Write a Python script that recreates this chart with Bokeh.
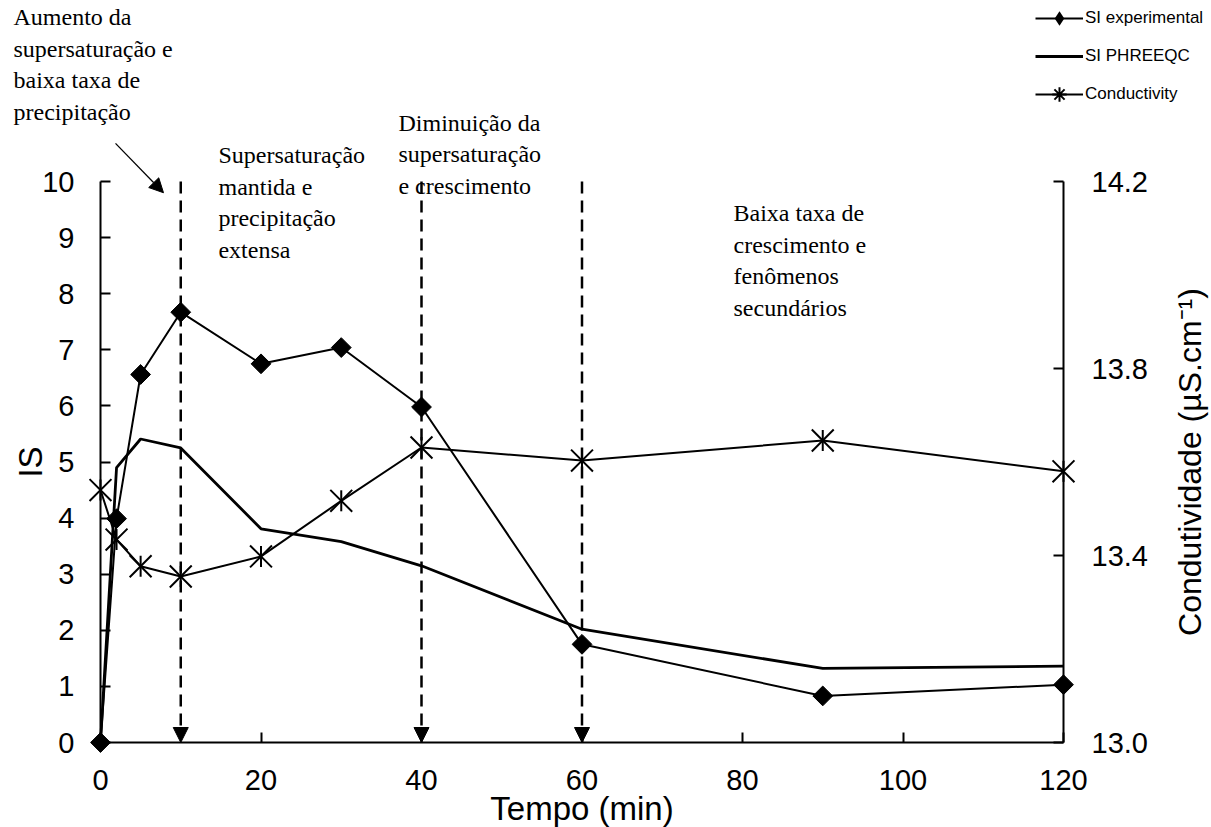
import numpy as np
from bokeh.plotting import figure
from bokeh.models import (Range1d, LinearAxis, FixedTicker, NumeralTickFormatter,
                          Label, Arrow, NormalHead, Legend, LegendItem)
from bokeh.embed import file_html
from bokeh.resources import INLINE

# Precipitation test: saturation index and conductivity over time
time_min = [0, 2, 5, 10, 20, 30, 40, 60, 90, 120]
si_experimental = [0.0, 3.99, 6.56, 7.67, 6.75, 7.04, 5.98, 1.75, 0.83, 1.03]
si_phreeqc = [0.0, 4.90, 5.41, 5.25, 3.81, 3.58, 3.15, 2.02, 1.32, 1.36]
conductivity = [13.54, 13.434, 13.377, 13.355, 13.398, 13.517, 13.631, 13.603, 13.646, 13.58]

# Stage boundaries (min)
stage_times = [10, 40, 60]

x_ticks = [0, 20, 40, 60, 80, 100, 120]
is_ticks = [0, 1, 2, 3, 4, 5, 6, 7, 8, 9, 10]
cond_ticks = [13.0, 13.4, 13.8, 14.2]

stage_notes = [
    (-10.84, 12.93, ["Aumento da", "supersaturação e", "baixa taxa de", "precipitação"]),
    (14.70, 10.47, ["Supersaturação", "mantida e", "precipitação", "extensa"]),
    (37.13, 11.05, ["Diminuição da", "supersaturação", "e crescimento"]),
    (78.88, 9.43, ["Baixa taxa de", "crescimento e", "fenômenos", "secundários"]),
]

SANS = "Liberation Sans"
SERIF = "Liberation Serif"

W, H = 1211, 827
# pixel placement of the axes box inside the canvas
ax_left_px, ax_right_px = 100, 1063
ax_top_px, ax_bottom_px = 181, 742
x_lo, x_hi = 0, 120
is_lo, is_hi = 0, 10
c_lo, c_hi = 13.0, 14.2

sx = (ax_right_px - ax_left_px) / (x_hi - x_lo)
sy = (ax_bottom_px - ax_top_px) / (is_hi - is_lo)
x_range = Range1d(x_lo - ax_left_px / sx, x_lo + (W - ax_left_px) / sx)
y_range = Range1d(is_lo - (H - ax_bottom_px) / sy, is_lo + ax_bottom_px / sy)
c_per_is = (c_hi - c_lo) / (is_hi - is_lo)

# the data frame fills the whole canvas; axes sit at fixed positions inside it
p = figure(width=W, height=H, x_range=x_range, y_range=y_range,
           x_axis_type=None, y_axis_type=None,
           output_backend="svg", toolbar_location=None,
           min_border=0, outline_line_color=None,
           background_fill_color="white", border_fill_color="white")
p.extra_y_ranges = {"cond": Range1d(c_lo + (y_range.start - is_lo) * c_per_is,
                                    c_lo + (y_range.end - is_lo) * c_per_is)}


def style_axis(ax, standoff):
    ax.axis_line_width = 2
    ax.axis_line_color = "black"
    ax.major_tick_line_width = 2
    ax.major_tick_line_color = "black"
    ax.major_tick_in = 10
    ax.major_tick_out = 0
    ax.minor_tick_in = 0
    ax.minor_tick_out = 0
    ax.major_label_text_font = SANS
    ax.major_label_text_font_size = "29px"
    ax.major_label_text_color = "black"
    ax.major_label_standoff = standoff


left = LinearAxis(fixed_location=x_lo, bounds=(is_lo, is_hi),
                  ticker=FixedTicker(ticks=is_ticks, minor_ticks=[]))
style_axis(left, 26)
p.add_layout(left, "left")

bottom = LinearAxis(fixed_location=is_lo, bounds=(x_lo, x_hi),
                    ticker=FixedTicker(ticks=x_ticks, minor_ticks=[]))
style_axis(bottom, 27)
p.add_layout(bottom, "below")

right = LinearAxis(y_range_name="cond", fixed_location=x_hi, bounds=(c_lo, c_hi),
                   ticker=FixedTicker(ticks=cond_ticks, minor_ticks=[]),
                   formatter=NumeralTickFormatter(format="0.0"))
style_axis(right, 28)
p.add_layout(right, "right")

# series
r_ph = p.line(time_min, si_phreeqc, line_width=2.8, color="black")
r_exp_line = p.line(time_min, si_experimental, line_width=2, color="black")
p.scatter(time_min, si_experimental, marker="square", angle=np.pi / 4,
          size=14, color="black")
r_cond_line = p.line(time_min, conductivity, y_range_name="cond",
                     line_width=2, color="black")
p.scatter(time_min, conductivity, y_range_name="cond", marker="x",
          size=31, line_width=2, line_color="black")
p.scatter(time_min, conductivity, y_range_name="cond", marker="dash",
          angle=np.pi / 2, size=21, line_width=2, line_color="black")

# legend swatches: zero-size in the plot, sized by the legend itself
key_diamond = p.scatter(time_min[:1], si_experimental[:1], marker="diamond", size=0,
                        fill_color="black", line_color=None)
key_star = p.scatter(time_min[:1], conductivity[:1], y_range_name="cond",
                     marker="asterisk", size=0, line_width=2, line_color="black")

# stage boundaries: dashed arrows down to the time axis
for t in stage_times:
    p.add_layout(Arrow(end=NormalHead(size=15, fill_color="black", line_color="black",
                                      line_width=1),
                       x_start=t, y_start=is_hi, x_end=t, y_end=is_lo,
                       line_color="black", line_width=2.5, line_dash="12 7"))

# pointer from the first note
p.add_layout(Arrow(end=NormalHead(size=14, fill_color="black", line_color="black",
                                  line_width=1),
                   x_start=1.87, y_start=10.68, x_end=7.85, y_end=9.80,
                   line_color="black", line_width=1.3))

for x0, y0, lines in stage_notes:
    for i, txt in enumerate(lines):
        p.add_layout(Label(x=x0, y=y0, y_offset=-31.5 * i, text=txt,
                           text_font=SERIF, text_font_size="24px",
                           text_color="black", text_align="left",
                           text_baseline="alphabetic"))

# axis titles
p.add_layout(Label(x=-8.7, y=5.0, text="IS", angle=np.pi / 2,
                   text_align="center", text_baseline="middle",
                   text_font=SANS, text_font_size="33px", text_color="black"))
p.add_layout(Label(x=60, y=-1.17, text="Tempo (min)",
                   text_align="center", text_baseline="middle",
                   text_font=SANS, text_font_size="33px", text_color="black"))
p.add_layout(Label(x=135.8, y=5.0, text="Condutividade (µS.cm⁻¹)", angle=np.pi / 2,
                   text_align="center", text_baseline="middle",
                   text_font=SANS, text_font_size="32px", text_color="black"))

legend = Legend(items=[
    LegendItem(label="SI experimental", renderers=[r_exp_line, key_diamond]),
    LegendItem(label="SI PHREEQC", renderers=[r_ph]),
    LegendItem(label="Conductivity", renderers=[r_cond_line, key_star]),
], location=(1035, H - 112), orientation="vertical",
    glyph_width=48, glyph_height=36, label_height=20, label_standoff=2,
    spacing=2, padding=0, margin=0,
    border_line_color=None, background_fill_alpha=0,
    label_text_font=SANS, label_text_font_size="17px", label_text_color="black")
p.add_layout(legend)

open("out.html", "w").write(file_html(p, INLINE))
